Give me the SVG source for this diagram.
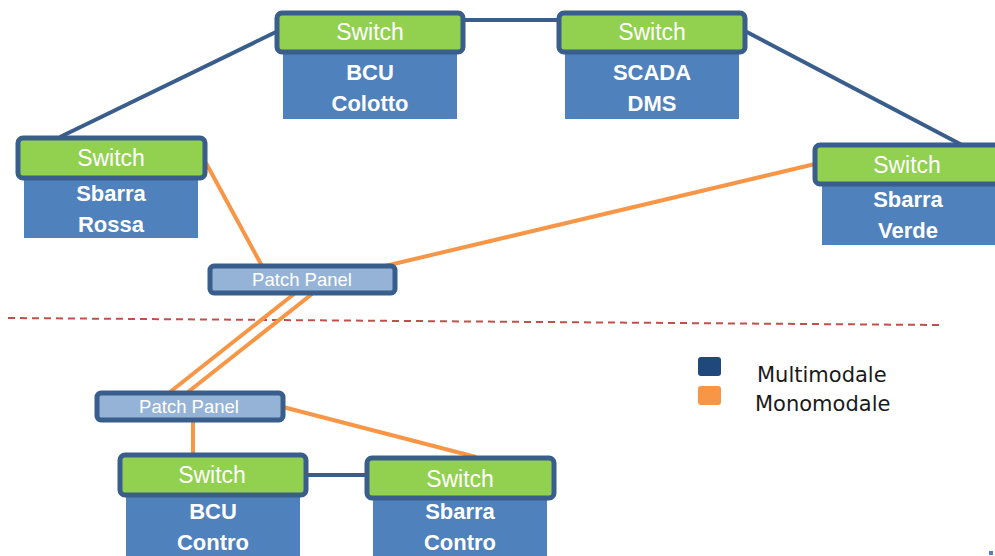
<svg xmlns="http://www.w3.org/2000/svg" width="995" height="556" viewBox="0 0 995 556">
  <style>
    .sw { fill: #92D050; stroke: #3A5E8C; stroke-width: 5; }
    .dev { fill: #4F81BD; }
    .pp { fill: #95B3D7; stroke: #3A5E8C; stroke-width: 5; }
    .swt { font-family: "Liberation Sans", Arial, sans-serif; font-size: 23px; fill: #FFFFFF; text-anchor: middle; }
    .devt { font-family: "Liberation Sans", Arial, sans-serif; font-size: 22px; font-weight: bold; fill: #FFFFFF; text-anchor: middle; }
    .ppt { font-family: "Liberation Sans", Arial, sans-serif; font-size: 18.5px; fill: #FFFFFF; text-anchor: middle; }
    .multi { stroke: #3A5E8C; stroke-width: 4; fill: none; }
    .mono { stroke: #F79646; stroke-width: 4; fill: none; }
    .leg { font-family: "DejaVu Sans", Verdana, sans-serif; font-size: 21px; fill: #1A1A1A; }
  </style>

  <!-- separator -->
  <line x1="8" y1="318" x2="940" y2="325" stroke="#C0504D" stroke-width="2" stroke-dasharray="7,5"/>

  <g id="connectors">
    <!-- multimode fibre -->
    <line class="multi" x1="463" y1="20" x2="558" y2="20"/>
    <line class="multi" x1="280" y1="30" x2="60" y2="137"/>
    <line class="multi" x1="743" y1="30" x2="962" y2="145"/>
    <line class="multi" x1="305" y1="475" x2="366" y2="475"/>
    <!-- single mode fibre -->
    <line class="mono" x1="206" y1="163" x2="262" y2="266"/>
    <line class="mono" x1="385" y1="266" x2="815" y2="164"/>
    <line class="mono" x1="294" y1="294" x2="170" y2="392"/>
    <line class="mono" x1="312" y1="294" x2="188" y2="392"/>
    <line class="mono" x1="193" y1="420" x2="193" y2="454"/>
    <line class="mono" x1="283" y1="407" x2="476" y2="457"/>
  </g>

  <g id="bcu-colotto">
    <rect class="dev" x="283" y="52" width="174" height="67"/>
    <rect class="sw" x="277" y="13" width="186" height="39" rx="5"/>
    <text class="swt" x="370" y="40">Switch</text>
    <text class="devt" x="370" y="80">BCU</text>
    <text class="devt" x="370" y="111">Colotto</text>
  </g>

  <g id="scada-dms">
    <rect class="dev" x="565" y="52" width="174" height="67"/>
    <rect class="sw" x="559" y="13" width="186" height="39" rx="5"/>
    <text class="swt" x="652" y="40">Switch</text>
    <text class="devt" x="652" y="80">SCADA</text>
    <text class="devt" x="652" y="111">DMS</text>
  </g>

  <g id="sbarra-rossa">
    <rect class="dev" x="24" y="178" width="174" height="60"/>
    <rect class="sw" x="18" y="138" width="187" height="40" rx="5"/>
    <text class="swt" x="111" y="166">Switch</text>
    <text class="devt" x="111" y="201">Sbarra</text>
    <text class="devt" x="111" y="232">Rossa</text>
  </g>

  <g id="sbarra-verde">
    <rect class="dev" x="822" y="184" width="180" height="61"/>
    <rect class="sw" x="815" y="145" width="190" height="39" rx="5"/>
    <text class="swt" x="907" y="173">Switch</text>
    <text class="devt" x="908" y="207">Sbarra</text>
    <text class="devt" x="908" y="238">Verde</text>
  </g>

  <g id="patch-panel-1">
    <rect class="pp" x="210" y="266" width="185" height="27" rx="4"/>
    <text class="ppt" x="302" y="286">Patch Panel</text>
  </g>

  <g id="patch-panel-2">
    <rect class="pp" x="97" y="393" width="186" height="27" rx="4"/>
    <text class="ppt" x="189" y="413">Patch Panel</text>
  </g>

  <g id="bcu-contro">
    <rect class="dev" x="126" y="496" width="174" height="62"/>
    <rect class="sw" x="120" y="455" width="186" height="40" rx="5"/>
    <text class="swt" x="212" y="483">Switch</text>
    <text class="devt" x="213" y="519">BCU</text>
    <text class="devt" x="213" y="550">Contro</text>
  </g>

  <g id="sbarra-contro">
    <rect class="dev" x="373" y="499" width="174" height="59"/>
    <rect class="sw" x="367" y="458" width="187" height="40" rx="5"/>
    <text class="swt" x="460" y="487">Switch</text>
    <text class="devt" x="460" y="519">Sbarra</text>
    <text class="devt" x="460" y="550">Contro</text>
  </g>

  <g id="legend">
    <rect x="698" y="357" width="23" height="19" rx="3" fill="#1F497D"/>
    <rect x="698" y="386" width="23" height="19" rx="3" fill="#F79646"/>
    <text class="leg" x="757" y="382">Multimodale</text>
    <text class="leg" x="755" y="411">Monomodale</text>
  </g>

  <rect x="989" y="551" width="4" height="4" fill="#4F81BD"/>
</svg>
